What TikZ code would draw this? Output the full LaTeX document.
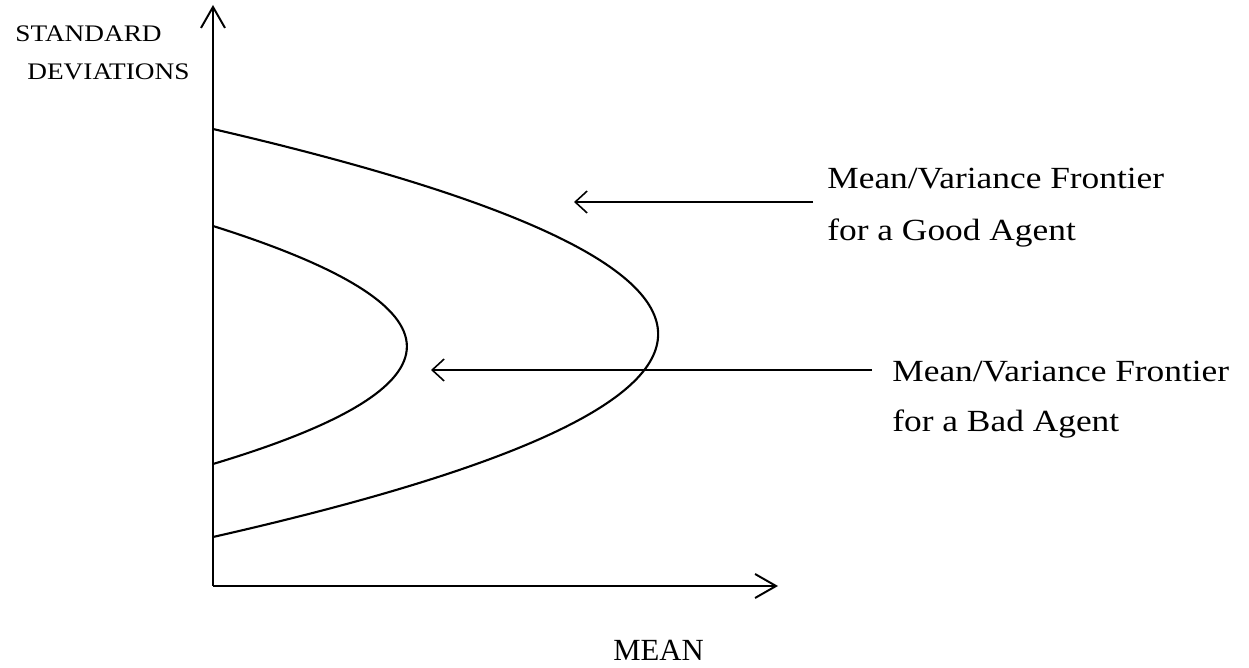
\documentclass[tikz,border=0pt]{standalone}
\usepackage{fontspec}
\setmainfont{Liberation Serif}
\newfontfamily\widefont[FakeStretch=1.15]{Liberation Serif}
\usetikzlibrary{arrows.meta}

\begin{document}
\begin{tikzpicture}[
  axis/.style={line width=1.2pt,-{Straight Barb[length=4.2mm,width=4.8mm,line width=1.1pt]}},
  curve/.style={line width=1.2pt},
  pointer/.style={line width=0.9pt,-{Straight Barb[length=2.4mm,width=4.4mm,line width=0.9pt]}},
  axlbl/.style={inner sep=0pt,anchor=base west,font=\widefont\fontsize{13.5}{16}\selectfont},
  lbl/.style={inner sep=0pt,anchor=base west,font=\widefont\fontsize{17.5}{21}\selectfont}]

\useasboundingbox (0,0) rectangle (24.98,13.34);

% axes
\coordinate (o) at (4.26,1.62);
\coordinate (ytip) at (4.26,13.24);
\coordinate (xtip) at (15.56,1.62);
\draw [axis] (o) -- (ytip);
\draw [axis] (o) -- (xtip);

% frontiers
\draw [curve] (4.26,10.76) .. controls (16.13,8.01) and (16.13,5.29) .. (4.26,2.60);
\draw [curve] (4.26,8.82) .. controls (9.43,7.19) and (9.43,5.61) .. (4.26,4.06);

% labels
\node [axlbl] (sd1) at (0.30,12.50) {STANDARD};
\node [axlbl] (sd2) at (0.54,11.74) {DEVIATIONS};
\node [inner sep=0pt,anchor=base west,font=\fontsize{17.5}{21}\selectfont] (mean) at (12.26,0.14) {MEAN};

\node [lbl] (good1) at (16.54,9.56) {Mean/Variance Frontier};
\node [lbl] (good2) at (16.54,8.52) {for a Good Agent};
\node [lbl] (bad1) at (17.84,5.70) {Mean/Variance Frontier};
\node [lbl] (bad2) at (17.84,4.70) {for a Bad Agent};

% pointers
\coordinate (goodfrom) at (16.26,9.30);
\coordinate (goodto) at (11.48,9.30);
\coordinate (badfrom) at (17.44,5.94);
\coordinate (badto) at (8.62,5.94);
\draw [pointer] (goodfrom) -- (goodto);
\draw [pointer] (badfrom) -- (badto);
\end{tikzpicture}
\end{document}
